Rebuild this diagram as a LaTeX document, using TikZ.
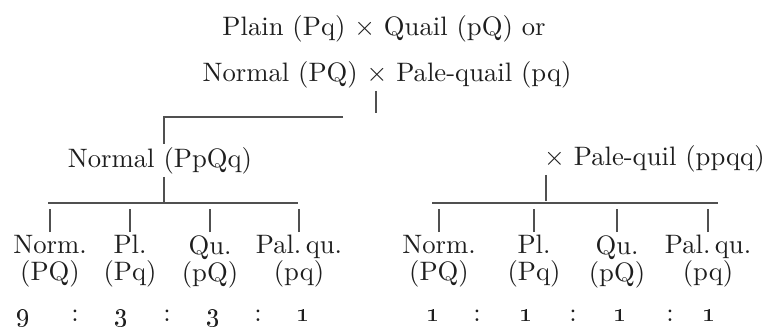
\documentclass[tikz,border=0pt]{standalone}
\definecolor{inkText}{HTML}{1E1E1E}
\definecolor{inkLine}{HTML}{505050}
\tikzset{
  cross/.style={font=\normalsize, text=inkText, inner sep=1pt, anchor=base},
  kid/.style={font=\fontsize{10}{10.2}\selectfont, text=inkText, inner sep=1pt,
    align=center, anchor=north},
  ratio/.style={text=inkText, inner sep=0pt, anchor=base},
  branch/.style={draw=inkLine, line width=0.5pt},
}

\begin{document}
\begin{tikzpicture}[x=0.375pt, y=-0.375pt]
  \useasboundingbox (0,0) rectangle (765,330);

  % === Parental crosses ===
  \node[cross] (par1) at (384,35) {Plain (Pq) $\times$ Quail (pQ) or};
  \node[cross] (par2) at (387,81) {Normal (PQ) $\times$ Pale-quail (pq)};

  % === F1 and back-cross parent ===
  \node[cross] (fone) at (160,167) {Normal (PpQq)};
  \node[cross, anchor=base west] (back) at (541,165) {$\times$ Pale-quil (ppqq)};

  % === Junctions and bars ===
  \coordinate (jtop) at (376,113);
  \coordinate (btopL) at (164,117);
  \coordinate (btopR) at (343,117);
  \coordinate (jleft) at (164,202);
  \coordinate (bleftL) at (48,203);
  \coordinate (bleftR) at (298,203);
  \coordinate (jright) at (546,201);
  \coordinate (brightL) at (432,203);
  \coordinate (brightR) at (718,203);
  \coordinate (tick) at (0,209);

  \draw[branch] (par2.south -| jtop) -- (jtop);
  \draw[branch] (btopR) -- (btopL) -- (btopL |- fone.north);
  \draw[branch] (fone.south -| jleft) -- (jleft);
  \draw[branch] (bleftL) -- (bleftR);
  \draw[branch] (back.south -| jright) -- (jright);
  \draw[branch] (brightL) -- (brightR);

  % === Offspring of F1 x F1 ===
  \node[kid] (lnorm) at (50,232) {Norm.\\(PQ)};
  \node[kid] (lpl) at (130,232) {Pl.\\(Pq)};
  \node[kid] (lqu) at (210,232) {Qu.\\(pQ)};
  \node[kid] (lpal) at (299,232) {Pal.\,qu.\\(pq)};

  % === Offspring of back-cross ===
  \node[kid] (rnorm) at (439,232) {Norm.\\(PQ)};
  \node[kid] (rpl) at (534,232) {Pl.\\(Pq)};
  \node[kid] (rqu) at (617,232) {Qu.\\(pQ)};
  \node[kid] (rpal) at (708,232) {Pal.\,qu.\\(pq)};

  \draw[branch] (lnorm.north) -- (lnorm.north |- tick);
  \draw[branch] (lpl.north) -- (lpl.north |- tick);
  \draw[branch] (lqu.north) -- (lqu.north |- tick);
  \draw[branch] (lpal.north) -- (lpal.north |- tick);
  \draw[branch] (rnorm.north) -- (rnorm.north |- tick);
  \draw[branch] (rpl.north) -- (rpl.north |- tick);
  \draw[branch] (rqu.north) -- (rqu.north |- tick);
  \draw[branch] (rpal.north) -- (rpal.north |- tick);

  % === Ratios ===
  \node[ratio] (lr1) at (23,321) {\oldstylenums{9}};
  \node[ratio] (lc1) at (75,321) {:};
  \node[ratio] (lr2) at (121,321) {\oldstylenums{3}};
  \node[ratio] (lc2) at (167,321) {:};
  \node[ratio] (lr3) at (213,321) {\oldstylenums{3}};
  \node[ratio] (lc3) at (258,321) {:};
  \node[ratio] (lr4) at (303,321) {\oldstylenums{1}};

  \node[ratio] (rr1) at (433,321) {\oldstylenums{1}};
  \node[ratio] (rc1) at (477,321) {:};
  \node[ratio] (rr2) at (526,321) {\oldstylenums{1}};
  \node[ratio] (rc2) at (573,321) {:};
  \node[ratio] (rr3) at (620,321) {\oldstylenums{1}};
  \node[ratio] (rc3) at (670,321) {:};
  \node[ratio] (rr4) at (709,321) {\oldstylenums{1}};

\end{tikzpicture}
\end{document}
